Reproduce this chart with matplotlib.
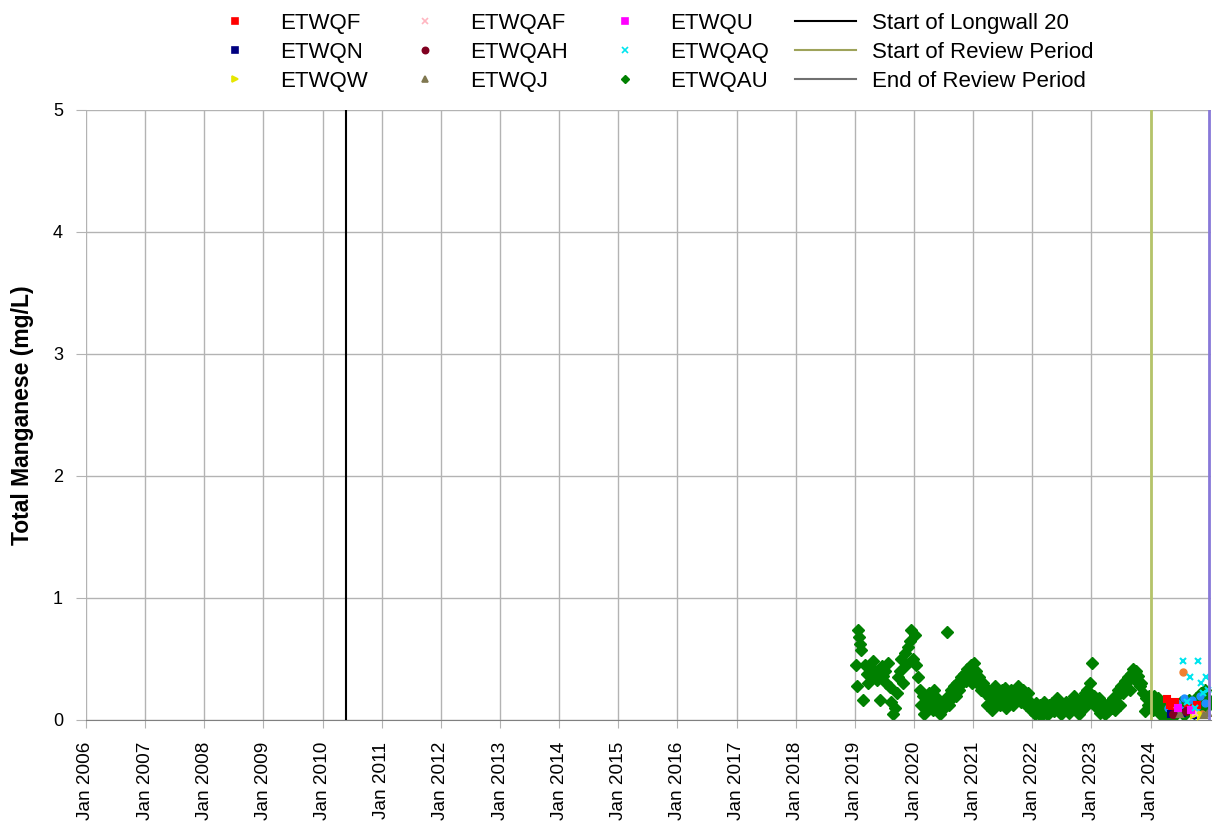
import numpy as np
import pandas as pd
import matplotlib
matplotlib.use("Agg")
import matplotlib.pyplot as plt
import matplotlib.dates as mdates
from matplotlib.lines import Line2D

plt.rcParams['font.family'] = ['Liberation Sans', 'DejaVu Sans']

# ---- data ----
# ETWQAU (green diamonds), sampled roughly three times a month
au_dates_19_20 = ("2019-01-06 2019-01-12 2019-01-19 2019-01-25 2019-02-02 2019-02-09 2019-02-20 "
                  "2019-03-05 2019-03-15 2019-03-25 2019-04-05 2019-04-15 2019-04-25 "
                  "2019-05-05 2019-05-15 2019-05-25 2019-06-05 2019-06-15 2019-06-25 "
                  "2019-07-05 2019-07-15 2019-07-25 2019-08-05 2019-08-15 2019-08-25 "
                  "2019-09-05 2019-09-15 2019-09-25 2019-10-05 2019-10-15 2019-10-25 "
                  "2019-11-05 2019-11-15 2019-11-25 2019-12-05 2019-12-15 2019-12-25 "
                  "2020-01-05 2020-01-15 2020-01-25 2020-02-05 2020-02-15 2020-02-25 "
                  "2020-03-05 2020-03-15 2020-03-25 2020-04-05 2020-04-15 2020-04-25 "
                  "2020-05-05 2020-05-15 2020-05-25 2020-06-08 2020-06-22 "
                  "2020-07-05 2020-07-22 2020-07-28 2020-08-05 2020-08-15 2020-08-25 "
                  "2020-09-05 2020-09-15 2020-09-25 2020-10-05 2020-10-15 2020-10-25 "
                  "2020-11-05 2020-11-15 2020-11-25 2020-12-05 2020-12-15 2020-12-25").split()
au_vals_19_20 = [0.45, 0.28, 0.74, 0.68, 0.62, 0.57, 0.16,
                 0.45, 0.38, 0.30, 0.42, 0.35, 0.48,
                 0.40, 0.33, 0.38, 0.16, 0.44, 0.36,
                 0.40, 0.30, 0.47, 0.27, 0.15, 0.05,
                 0.10, 0.22, 0.35, 0.40, 0.50, 0.30,
                 0.55, 0.45, 0.60, 0.65, 0.74, 0.50,
                 0.70, 0.45, 0.35, 0.25, 0.12, 0.20,
                 0.05, 0.18, 0.10, 0.22, 0.15, 0.08,
                 0.25, 0.12, 0.18, 0.05, 0.15,
                 0.10, 0.72, 0.20, 0.12, 0.25, 0.18,
                 0.28, 0.20, 0.30, 0.25, 0.35, 0.30,
                 0.38, 0.32, 0.42, 0.35, 0.45, 0.30]

au_dates_21_22 = ("2021-01-05 2021-01-15 2021-01-25 2021-02-05 2021-02-15 2021-02-25 "
                  "2021-03-05 2021-03-15 2021-03-25 2021-04-05 2021-04-15 2021-04-25 "
                  "2021-05-05 2021-05-15 2021-05-25 2021-06-05 2021-06-15 2021-06-25 "
                  "2021-07-05 2021-07-15 2021-07-25 2021-08-05 2021-08-15 2021-08-25 "
                  "2021-09-05 2021-09-15 2021-09-25 2021-10-05 2021-10-15 2021-10-25 "
                  "2021-11-05 2021-11-15 2021-11-25 2021-12-05 2021-12-15 2021-12-25 "
                  "2022-01-05 2022-01-15 2022-01-25 2022-02-05 2022-02-15 2022-02-25 "
                  "2022-03-05 2022-03-15 2022-03-25 2022-04-05 2022-04-15 2022-04-25 "
                  "2022-05-05 2022-05-15 2022-05-25 2022-06-05 2022-06-15 2022-06-25 "
                  "2022-07-05 2022-07-15 2022-07-25 2022-08-05 2022-08-15 2022-08-25 "
                  "2022-09-05 2022-09-15 2022-09-25 2022-10-05 2022-10-15 2022-10-25 "
                  "2022-11-05 2022-11-15 2022-11-25 2022-12-05 2022-12-15 2022-12-25").split()
au_vals_21_22 = [0.47, 0.40, 0.30, 0.35, 0.25, 0.28,
                 0.30, 0.22, 0.12, 0.25, 0.18, 0.08,
                 0.20, 0.28, 0.15, 0.22, 0.12, 0.25,
                 0.18, 0.26, 0.10, 0.20, 0.15, 0.25,
                 0.12, 0.22, 0.18, 0.28, 0.20, 0.15,
                 0.25, 0.18, 0.12, 0.22, 0.15, 0.08,
                 0.10, 0.05, 0.14, 0.08, 0.12, 0.03,
                 0.10, 0.15, 0.06, 0.05, 0.12, 0.08,
                 0.14, 0.07, 0.10, 0.18, 0.10, 0.05,
                 0.12, 0.08, 0.15, 0.10, 0.06, 0.12,
                 0.16, 0.20, 0.08, 0.12, 0.05, 0.15,
                 0.18, 0.10, 0.22, 0.25, 0.15, 0.30]

au_dates_23_24 = ("2023-01-05 2023-01-15 2023-01-25 2023-02-05 2023-02-15 2023-02-25 "
                  "2023-03-05 2023-03-15 2023-03-25 2023-04-05 2023-04-15 2023-04-25 "
                  "2023-05-05 2023-05-15 2023-05-25 2023-06-05 2023-06-15 2023-06-25 "
                  "2023-07-05 2023-07-15 2023-07-25 2023-08-05 2023-08-15 2023-08-25 "
                  "2023-09-05 2023-09-15 2023-09-25 2023-10-05 2023-10-15 2023-10-25 "
                  "2023-11-05 2023-11-15 2023-11-25 2023-12-05 2023-12-15 2023-12-25 "
                  "2024-01-05 2024-01-15 2024-01-25 2024-02-05 2024-02-15 2024-02-25 "
                  "2024-03-05 2024-03-15 2024-03-25 2024-04-05 2024-04-15 2024-04-25 "
                  "2024-05-05 2024-05-15 2024-05-25 2024-06-05 2024-06-15 2024-06-25 "
                  "2024-07-05 2024-07-15 2024-07-25 2024-08-05 2024-08-15 2024-08-25 "
                  "2024-09-05 2024-09-15 2024-09-25 2024-10-05 2024-10-15 2024-10-25 "
                  "2024-11-05 2024-11-15 2024-11-25 2024-12-05 2024-12-15 2024-12-25").split()
au_vals_23_24 = [0.47, 0.20, 0.12, 0.10, 0.18, 0.06,
                 0.08, 0.14, 0.05, 0.12, 0.07, 0.15,
                 0.10, 0.18, 0.08, 0.20, 0.25, 0.12,
                 0.28, 0.22, 0.32, 0.30, 0.35, 0.25,
                 0.38, 0.42, 0.33, 0.40, 0.36, 0.28,
                 0.30, 0.22, 0.07, 0.18, 0.12, 0.20,
                 0.15, 0.08, 0.20, 0.12, 0.18, 0.05,
                 0.10, 0.15, 0.03, 0.08, 0.14, 0.02,
                 0.12, 0.06, 0.10, 0.05, 0.13, 0.08,
                 0.15, 0.10, 0.04, 0.12, 0.08, 0.16,
                 0.10, 0.14, 0.06, 0.18, 0.12, 0.20,
                 0.22, 0.15, 0.10, 0.25, 0.18, 0.12]

# other sites, review period only (2024)
f_dates = ["2024-04-10", "2024-04-28", "2024-05-15", "2024-06-02", "2024-08-20", "2024-10-12"]
f_vals = [0.17, 0.12, 0.08, 0.15, 0.10, 0.12]
n_dates = ["2024-05-05", "2024-07-10", "2024-09-22"]
n_vals = [0.05, 0.06, 0.04]
w_dates = ["2024-09-28", "2024-10-18", "2024-11-10"]
w_vals = [0.04, 0.06, 0.03]
af_dates = ["2024-06-12", "2024-10-02"]
af_vals = [0.08, 0.06]
ah_dates = ["2024-05-20", "2024-08-05"]
ah_vals = [0.05, 0.07]
j_dates = ["2024-07-01", "2024-11-25", "2024-12-18"]
j_vals = [0.05, 0.04, 0.06]
u_dates = ["2024-06-20", "2024-09-05"]
u_vals = [0.10, 0.08]
aq_dates = ["2024-07-18", "2024-09-01", "2024-10-20", "2024-11-05", "2024-11-22",
            "2024-12-10", "2024-12-22", "2024-08-10", "2024-10-01"]
aq_vals = [0.48, 0.35, 0.48, 0.30, 0.22, 0.35, 0.25, 0.15, 0.10]
orange_dates = ["2024-07-18", "2024-06-25", "2024-09-10", "2024-11-15"]
orange_vals = [0.39, 0.06, 0.08, 0.05]
blue_dates = ["2024-04-20", "2024-05-25", "2024-06-15", "2024-07-05", "2024-07-28",
              "2024-08-18", "2024-09-15", "2024-10-08", "2024-11-01", "2024-12-01"]
blue_vals = [0.10, 0.06, 0.14, 0.08, 0.18, 0.12, 0.16, 0.10, 0.20, 0.14]

longwall_start = "2010-05-25"
review_start = "2024-01-01"
review_end = "2024-12-28"
year_ticks = list(range(2006, 2025))

# ---- figure ----
fig = plt.figure(figsize=(12.15, 8.27), dpi=100)
ax = fig.add_axes([86 / 1215, 1 - 720 / 827, (1211 - 86) / 1215, (720 - 110) / 827])

grid_c = "#b3b3b3"
ax.grid(True, color=grid_c, linewidth=1)
ax.set_axisbelow(True)
for s in ["top", "right", "left"]:
    ax.spines[s].set_visible(False)
ax.spines["bottom"].set_color("#808080")

au_dates = pd.to_datetime(au_dates_19_20 + au_dates_21_22 + au_dates_23_24)
au_vals = au_vals_19_20 + au_vals_21_22 + au_vals_23_24

ms = 5
series = [
    ("ETWQF", f_dates, f_vals, "s", "#ff0000"),
    ("ETWQN", n_dates, n_vals, "s", "#000080"),
    ("ETWQW", w_dates, w_vals, ">", "#e6e600"),
    ("ETWQAF", af_dates, af_vals, "x", "#ffb6c1"),
    ("ETWQAH", ah_dates, ah_vals, "o", "#800020"),
    ("ETWQJ", j_dates, j_vals, "^", "#807850"),
    ("ETWQU", u_dates, u_vals, "s", "#ff00ff"),
    ("ETWQAQ", aq_dates, aq_vals, "x", "#00e5ee"),
]
handles = {}
ax.plot(pd.to_datetime(orange_dates), orange_vals, "o", color="#f08030", ms=ms, zorder=3)
ax.plot(pd.to_datetime(blue_dates), blue_vals, "o", color="#1e90ff", ms=ms, zorder=3)
for name, d, v, m, c in series:
    ax.plot(pd.to_datetime(d), v, m, color=c, ms=ms, mew=1.5, zorder=3)
    handles[name] = Line2D([], [], ls="none", marker=m, color=c, ms=4.5, mew=1.2)
ax.plot(au_dates, au_vals, "D", color="#008000", ms=6, zorder=2)
handles["ETWQAU"] = Line2D([], [], ls="none", marker="D", color="#008000", ms=4.5)

ax.axvline(pd.Timestamp(longwall_start), color="black", lw=1.5, zorder=4)
ax.axvline(pd.Timestamp(review_start), color="#b5c46a", lw=2, zorder=4)
ax.axvline(pd.Timestamp(review_end), color="#8878d8", lw=2, zorder=4)

ax.set_xlim(pd.Timestamp("2006-01-01"), pd.Timestamp("2025-01-08"))
ax.set_ylim(0, 5)
ax.set_yticks([0, 1, 2, 3, 4, 5])
ax.set_xticks([pd.Timestamp(f"{y}-01-01") for y in year_ticks])
ax.xaxis.set_major_formatter(mdates.DateFormatter("Jan %Y"))
ax.tick_params(axis="x", rotation=90, labelsize=13.7, color=grid_c, length=6, pad=9.5)
ax.tick_params(axis="y", labelsize=13, color=grid_c, length=7.5, pad=9)
ax.set_ylabel("Total Manganese (mg/L)", fontsize=16.5, fontweight="bold", labelpad=14)

# ---- legend: four columns placed like the reference ----
fs = 16
cols = [
    (["ETWQF", "ETWQN", "ETWQW"], 224),
    (["ETWQAF", "ETWQAH", "ETWQJ"], 414),
    (["ETWQU", "ETWQAQ", "ETWQAU"], 614),
]
top = 1 - 12.5 / 827
for names, x0 in cols:
    fig.legend([handles[n] for n in names], names, loc="upper left",
               bbox_to_anchor=(x0 / 1215, top), frameon=False, fontsize=fs,
               handlelength=1.0, handletextpad=1.53, borderpad=0, borderaxespad=0,
               labelspacing=0.37)
line_handles = [Line2D([], [], color="black", lw=1.5),
                Line2D([], [], color="#9ea35a", lw=1.5),
                Line2D([], [], color="#707070", lw=1.5)]
fig.legend(line_handles, ["Start of Longwall 20", "Start of Review Period", "End of Review Period"],
           loc="upper left", bbox_to_anchor=(795 / 1215, top), frameon=False,
           fontsize=fs, handlelength=2.75, handletextpad=0.72, borderpad=0,
           borderaxespad=0, labelspacing=0.37)

fig.savefig("out.png", dpi=100)
